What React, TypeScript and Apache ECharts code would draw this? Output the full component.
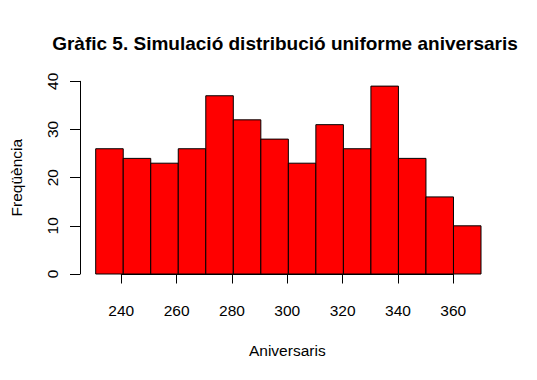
import React, { useEffect, useRef } from "react";
import * as echarts from "echarts";

const binStarts = [230, 240, 250, 260, 270, 280, 290, 300, 310, 320, 330, 340, 350, 360];
const binEnds = [240, 250, 260, 270, 280, 290, 300, 310, 320, 330, 340, 350, 360, 370];
const counts = [26, 24, 23, 26, 37, 32, 28, 23, 31, 26, 39, 24, 16, 10];

const titleText = "Gràfic 5. Simulació distribució uniforme aniversaris";
const xName = "Aniversaris";
const yName = "Freqüència";

const FONT = "Liberation Sans, Arial, sans-serif";

export default function App() {
  const ref = useRef<HTMLDivElement>(null);
  useEffect(() => {
    if (!ref.current) return;
    const chart = echarts.init(ref.current, undefined, { renderer: "svg" });
    const data = binStarts.map((s, i) => [s, binEnds[i], counts[i]]);
    chart.setOption({
      animation: false,
      backgroundColor: "#ffffff",
      title: {
        text: titleText,
        left: 280,
        top: 29,
        textAlign: "center",
        textStyle: { fontFamily: FONT, fontWeight: "bold", fontSize: 19, color: "#000" },
      },
      grid: [
        { left: 94, right: 56, top: 81.3, bottom: 106, containLabel: false },
        { left: 121.3, right: 83.7, top: 81.3, bottom: 106, containLabel: false },
      ],
      xAxis: [
        {
          type: "value",
          gridIndex: 0,
          min: 230,
          max: 370,
          show: false,
        },
        {
          type: "value",
          gridIndex: 1,
          min: 240,
          max: 360,
          interval: 20,
          offset: 8.3,
          axisLine: { show: true, lineStyle: { color: "#000", width: 1 } },
          axisTick: { show: true, length: 9.5, lineStyle: { color: "#000" } },
          axisLabel: { show: true, margin: 20, fontFamily: FONT, fontSize: 15.5, color: "#000" },
          splitLine: { show: false },
          name: xName,
          nameLocation: "middle",
          nameGap: 60,
          nameTextStyle: { fontFamily: FONT, fontSize: 15.5, color: "#000" },
        },
      ],
      yAxis: [
        {
          type: "value",
          gridIndex: 0,
          min: 0,
          max: 40,
          interval: 10,
          offset: 15.7,
          axisLine: { show: true, lineStyle: { color: "#000", width: 1 } },
          axisTick: { show: true, length: 10, lineStyle: { color: "#000" } },
          axisLabel: {
            show: true,
            rotate: 90,
            margin: 20,
            fontFamily: FONT,
            fontSize: 15.5,
            color: "#000",
          },
          splitLine: { show: false },
          name: yName,
          nameLocation: "middle",
          nameRotate: 90,
          nameGap: 56,
          nameTextStyle: { fontFamily: FONT, fontSize: 15.5, color: "#000" },
        },
        {
          type: "value",
          gridIndex: 1,
          min: 0,
          max: 40,
          show: false,
        },
      ],
      series: [
        {
          type: "custom",
          xAxisIndex: 0,
          yAxisIndex: 0,
          data,
          encode: { x: [0, 1], y: 2 },
          renderItem: (params: any, api: any) => {
            const p0 = api.coord([api.value(0), api.value(2)]);
            const p1 = api.coord([api.value(1), 0]);
            return {
              type: "rect",
              shape: { x: p0[0], y: p0[1], width: p1[0] - p0[0], height: p1[1] - p0[1] },
              style: { fill: "#ff0000", stroke: "#000", lineWidth: 1 },
            };
          },
        },
      ],
    });
    return () => chart.dispose();
  }, []);
  return (
    <div
      ref={ref}
      style={{ width: 537, height: 380, position: "absolute", left: 0, top: 0 }}
    />
  );
}
